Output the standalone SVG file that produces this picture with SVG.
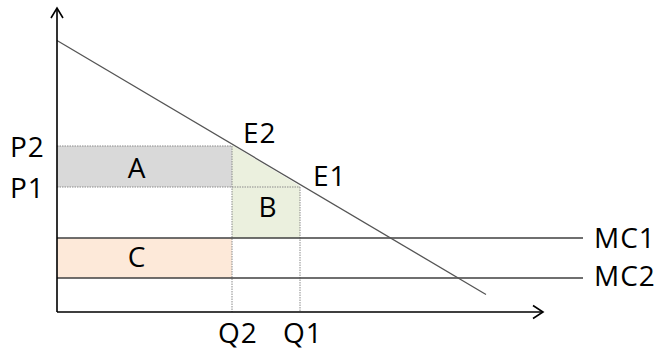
<svg xmlns="http://www.w3.org/2000/svg" width="661" height="351" viewBox="0 0 661 351">
<style>
.lbl{font-family:"Open Sans","Noto Sans","DejaVu Sans",sans-serif;font-size:28px;letter-spacing:1px;fill:#000}
.dot{stroke:#8a8a8a;stroke-width:1;stroke-dasharray:1.5,1;fill:none}
.axis{stroke:#000;stroke-width:1.6;fill:none}
.mc{stroke:#404040;stroke-width:1.6;fill:none}
</style>
<rect width="661" height="351" fill="#fff"/>
<g id="areas">
<rect id="A" x="57" y="146" width="175" height="41" fill="#d9d9d9"/>
<polygon id="B" points="232,145 300,186 300,238 232,238" fill="#ebf0de"/>
<rect id="C" x="57" y="238" width="175" height="40" fill="#fde9d9"/>
</g>
<g id="connectors">
<path class="dot" d="M57,146H232M57,187H300M232,146V312M300,187V312"/>
<path class="mc" d="M57,238H583M57,278H583"/>
<path d="M57,40.5L486,294.5" stroke="#555" stroke-width="1.3" fill="none"/>
<path class="axis" d="M57,312V8M57,312H543"/>
<path class="axis" d="M51,18L57,8L63,18M533,305.5L543,312L533,318.5"/>
</g>
<g id="labels">
<text class="lbl" x="10" y="156.5">P2</text>
<text class="lbl" x="10" y="198">P1</text>
<text class="lbl" x="137" y="178" text-anchor="middle">A</text>
<text class="lbl" x="268" y="217" text-anchor="middle">B</text>
<text class="lbl" x="137" y="267" text-anchor="middle">C</text>
<text class="lbl" x="243" y="143">E2</text>
<text class="lbl" x="313" y="185.5">E1</text>
<text class="lbl" x="594" y="247.5">MC1</text>
<text class="lbl" x="594" y="286">MC2</text>
<text class="lbl" x="218" y="343">Q2</text>
<text class="lbl" x="283" y="343">Q1</text>
</g>
</svg>
